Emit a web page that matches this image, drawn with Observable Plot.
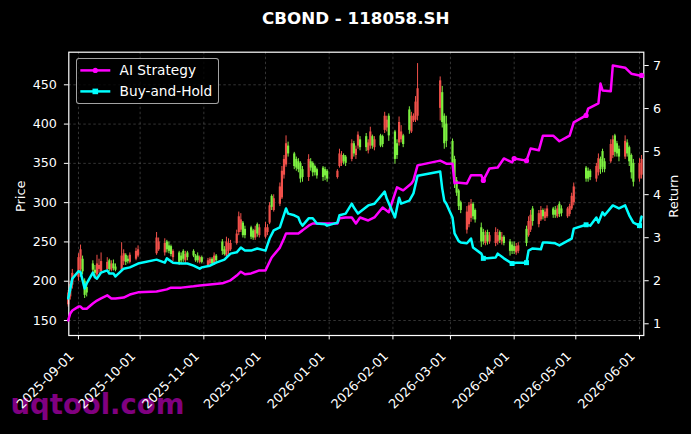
<!DOCTYPE html>
<html><head><meta charset="utf-8">
<script src="https://cdn.jsdelivr.net/npm/d3@7"></script>
<script src="https://cdn.jsdelivr.net/npm/@observablehq/plot@0.6"></script>
<style>
body{margin:0;background:#000;}
#wrap{position:relative;width:691px;height:434px;background:#000;overflow:hidden;font-family:"DejaVu Sans",sans-serif;}
#wrap svg.plot{position:absolute;left:0;top:0;}
#title{position:absolute;left:68.3px;width:575px;top:8px;line-height:20px;text-align:center;color:#fff;font-weight:bold;font-size:16.7px;}
#wm{position:absolute;left:10.5px;top:391px;line-height:27px;font-size:27.5px;font-weight:bold;color:#800080;white-space:nowrap;}
#legend{position:absolute;left:75.7px;top:58.3px;width:141.5px;height:43.7px;border:1px solid rgba(204,204,204,0.8);border-radius:3px;background:rgba(0,0,0,0.8);}
#legend svg{position:absolute;left:-1px;top:-1px;}
</style></head>
<body><div id="wrap"><div id="wm">uqtool.com</div></div>
<script>
const chartTitle = "CBOND - 118058.SH";
const seriesNames = ["AI Strategy", "Buy-and-Hold"];
const axisTitles = ["Price", "Return"];
const priceTicks = [150, 200, 250, 300, 350, 400, 450];
const returnTicks = [1, 2, 3, 4, 5, 6, 7];
const monthTickLabels = ["2025-09-01","2025-10-01","2025-11-01","2025-12-01","2026-01-01","2026-02-01","2026-03-01","2026-04-01","2026-05-01","2026-06-01"];

// date, open, high, low, close
const candles = [
["2025-08-27",170,188,167,185],["2025-08-28",180,200,176,196],["2025-08-29",195,215,190,210],
["2025-09-01",205,235,200,230],["2025-09-02",215,246,205,240],["2025-09-03",228,232,208,212],["2025-09-04",200,203,178,182],["2025-09-05",192,196,180,185],
["2025-09-08",222,226,210,214],["2025-09-09",214,220,205,210],["2025-09-10",208,233,204,222],["2025-09-11",215,228,210,220],["2025-09-12",212,236,210,225],
["2025-09-15",215,230,212,224],["2025-09-16",226,228,212,215],["2025-09-17",214,226,212,222],["2025-09-18",222,227,213,216],["2025-09-19",218,222,212,214],
["2025-09-22",214,249,212,232],["2025-09-23",225,240,220,235],["2025-09-24",233,235,220,224],["2025-09-25",228,232,222,225],["2025-09-26",224,236,222,233],
["2025-09-29",228,242,226,238],["2025-09-30",232,245,230,240],
["2025-10-09",235,262,233,255],["2025-10-10",240,255,238,250],
["2025-10-13",236,254,232,248],["2025-10-14",250,252,236,240],["2025-10-15",245,250,235,238],["2025-10-16",244,246,231,234],["2025-10-17",230,240,225,238],
["2025-10-20",236,238,220,224],["2025-10-21",232,236,222,226],["2025-10-22",238,240,224,228],["2025-10-23",226,238,222,234],["2025-10-24",236,238,226,230],
["2025-10-27",238,240,230,232],["2025-10-28",232,234,224,226],["2025-10-29",232,236,223,226],["2025-10-30",224,232,222,230],["2025-10-31",230,232,222,224],
["2025-11-03",220,229,218,226],["2025-11-04",222,230,219,228],["2025-11-05",228,230,220,222],["2025-11-06",222,236,220,232],["2025-11-07",232,234,224,226],
["2025-11-10",250,253,233,238],["2025-11-11",240,244,232,234],["2025-11-12",232,256,230,250],["2025-11-13",238,254,234,248],["2025-11-14",240,252,238,248],
["2025-11-17",248,265,246,260],["2025-11-18",262,288,258,282],["2025-11-19",265,286,262,278],["2025-11-20",274,276,255,258],["2025-11-21",266,270,254,258],
["2025-11-24",268,270,253,256],["2025-11-25",264,266,252,255],["2025-11-26",255,270,252,265],["2025-11-27",272,274,256,260],["2025-11-28",258,272,255,268],
["2025-12-01",256,275,254,268],["2025-12-02",262,272,258,268],["2025-12-03",274,300,272,296],["2025-12-04",308,310,290,294],["2025-12-05",290,310,288,305],
["2025-12-08",298,325,295,320],["2025-12-09",306,346,304,340],["2025-12-10",335,360,330,355],["2025-12-11",348,385,345,375],["2025-12-12",372,377,358,362],
["2025-12-15",362,364,342,346],["2025-12-16",355,358,340,344],["2025-12-17",352,356,338,342],["2025-12-18",350,352,325,330],["2025-12-19",342,346,326,332],
["2025-12-22",332,361,327,355],["2025-12-23",352,356,340,344],["2025-12-24",350,352,333,338],["2025-12-25",346,348,334,338],["2025-12-26",342,344,330,334],
["2025-12-29",344,346,327,332],["2025-12-30",342,345,328,334],["2025-12-31",340,342,326,330],
["2026-01-05",332,342,330,340],["2026-01-06",346,368,344,362],["2026-01-07",350,365,346,360],["2026-01-08",360,362,348,352],["2026-01-09",358,360,346,350],
["2026-01-12",355,380,352,375],["2026-01-13",375,378,358,362],["2026-01-14",360,372,355,368],["2026-01-15",372,390,368,386],["2026-01-16",380,384,366,370],
["2026-01-19",384,388,365,370],["2026-01-20",366,380,362,376],["2026-01-21",372,396,368,390],["2026-01-22",384,386,368,372],["2026-01-23",370,384,366,380],
["2026-01-26",385,387,370,372],["2026-01-27",384,386,370,374],["2026-01-28",392,415,388,410],["2026-01-29",395,410,390,405],["2026-01-30",410,413,378,385],
["2026-02-02",390,392,349,355],["2026-02-03",375,380,355,360],["2026-02-04",376,409,372,402],["2026-02-05",380,398,376,390],["2026-02-06",385,387,370,374],
["2026-02-09",418,422,387,392],["2026-02-10",390,415,388,410],["2026-02-11",404,413,402,410],["2026-02-12",405,435,402,428],["2026-02-13",410,477,404,445],
["2026-02-24",420,460,404,455],["2026-02-25",440,448,395,402],["2026-02-26",410,413,368,375],["2026-02-27",400,410,370,378],
["2026-03-02",378,381,342,348],["2026-03-03",355,359,318,325],["2026-03-04",328,332,308,312],["2026-03-05",315,317,290,295],["2026-03-06",300,302,286,290],
["2026-03-09",265,295,260,288],["2026-03-10",272,300,268,296],["2026-03-11",280,304,275,298],["2026-03-12",298,300,278,282],["2026-03-13",290,292,274,278],
["2026-03-16",268,274,243,250],["2026-03-17",262,266,246,250],["2026-03-18",248,264,245,258],["2026-03-19",262,265,246,250],["2026-03-20",250,262,247,258],
["2026-03-23",248,268,244,262],["2026-03-24",250,266,246,258],["2026-03-25",262,264,248,252],["2026-03-26",250,262,246,256],["2026-03-27",256,258,245,248],
["2026-03-30",250,253,232,238],["2026-03-31",246,250,234,238],["2026-04-01",244,250,234,238],["2026-04-02",236,248,233,244],["2026-04-03",238,249,235,245],
["2026-04-07",266,270,244,248],["2026-04-08",258,282,256,276],["2026-04-09",265,290,262,284],["2026-04-10",292,295,270,276],
["2026-04-13",272,290,268,286],["2026-04-14",278,295,276,290],["2026-04-15",290,292,278,282],["2026-04-16",280,292,276,288],["2026-04-17",282,296,280,292],
["2026-04-20",292,294,280,284],["2026-04-21",290,295,280,284],["2026-04-22",282,296,280,292],["2026-04-23",298,301,281,285],["2026-04-24",292,296,282,286],
["2026-04-27",282,294,280,292],["2026-04-28",285,298,282,295],["2026-04-29",292,312,290,308],["2026-04-30",300,325,296,320],
["2026-05-06",344,346,326,330],["2026-05-07",340,344,326,330],["2026-05-08",340,342,328,332],
["2026-05-11",330,350,326,346],["2026-05-12",338,362,334,356],["2026-05-13",355,358,336,342],["2026-05-14",365,368,338,345],["2026-05-15",352,356,338,342],
["2026-05-18",352,380,350,374],["2026-05-19",360,385,356,380],["2026-05-20",385,387,358,364],["2026-05-21",375,378,358,362],["2026-05-22",368,372,352,358],
["2026-05-25",358,385,355,378],["2026-05-26",376,380,358,362],["2026-05-27",370,372,346,352],["2026-05-28",360,362,330,338],["2026-05-29",350,355,320,326],
["2026-06-01",330,356,326,350],["2026-06-02",335,360,330,355]
];

const aiStrategy = [
["2025-08-27",1.08],["2025-08-28",1.24],["2025-08-29",1.31],["2025-09-01",1.40],["2025-09-02",1.40],["2025-09-03",1.35],["2025-09-05",1.35],["2025-09-08",1.47],
["2025-09-10",1.54],["2025-09-12",1.59],["2025-09-15",1.66],["2025-09-17",1.59],["2025-09-19",1.59],["2025-09-23",1.61],["2025-09-26",1.68],["2025-09-30",1.73],
["2025-10-09",1.75],["2025-10-14",1.80],["2025-10-16",1.84],["2025-10-21",1.84],["2025-10-27",1.87],["2025-10-30",1.89],["2025-11-04",1.91],["2025-11-10",1.94],
["2025-11-14",2.01],["2025-11-17",2.12],["2025-11-19",2.21],["2025-11-21",2.15],["2025-11-24",2.17],["2025-11-28",2.24],["2025-12-01",2.24],["2025-12-04",2.54],
["2025-12-08",2.77],["2025-12-10",2.98],["2025-12-11",3.10],["2025-12-17",3.10],["2025-12-19",3.17],["2025-12-22",3.28],["2025-12-24",3.33],["2026-01-05",3.33],
["2026-01-06",3.45],["2026-01-09",3.47],["2026-01-12",3.47],["2026-01-14",3.33],["2026-01-16",3.47],["2026-01-20",3.40],["2026-01-23",3.47],["2026-01-27",3.70],
["2026-01-30",3.59],["2026-02-03",4.17],["2026-02-06",4.10],["2026-02-10",4.26],["2026-02-11",4.33],["2026-02-13",4.68],["2026-02-24",4.79],["2026-02-27",4.72],
["2026-03-02",4.72],["2026-03-03",4.26],["2026-03-04",4.28],["2026-03-09",4.26],["2026-03-11",4.45],["2026-03-16",4.45],["2026-03-17",4.33],["2026-03-20",4.61],
["2026-03-24",4.63],["2026-03-27",4.84],["2026-03-31",4.75],["2026-04-01",4.84],["2026-04-07",4.79],["2026-04-09",5.07],["2026-04-13",5.03],["2026-04-15",5.37],
["2026-04-20",5.37],["2026-04-23",5.24],["2026-04-28",5.37],["2026-04-30",5.68],["2026-05-06",5.84],["2026-05-07",6.00],["2026-05-12",6.12],["2026-05-13",6.58],
["2026-05-14",6.42],["2026-05-18",6.40],["2026-05-19",7.00],["2026-05-25",6.95],["2026-05-28",6.81],["2026-06-01",6.77],["2026-06-02",6.77]
];

const buyHold = [
["2025-08-27",1.59],["2025-08-28",1.80],["2025-08-29",2.05],["2025-09-01",2.22],["2025-09-02",2.20],["2025-09-04",1.82],["2025-09-05",1.94],["2025-09-08",2.19],
["2025-09-09",2.08],["2025-09-10",2.05],["2025-09-12",2.19],["2025-09-15",2.24],["2025-09-16",2.17],["2025-09-18",2.17],["2025-09-19",2.10],["2025-09-23",2.28],
["2025-09-26",2.31],["2025-09-30",2.40],["2025-10-09",2.49],["2025-10-13",2.42],["2025-10-14",2.52],["2025-10-17",2.42],["2025-10-21",2.40],["2025-10-24",2.40],
["2025-10-27",2.35],["2025-10-30",2.28],["2025-10-31",2.31],["2025-11-04",2.35],["2025-11-07",2.42],["2025-11-11",2.49],["2025-11-14",2.63],["2025-11-17",2.66],
["2025-11-19",2.77],["2025-11-21",2.70],["2025-11-24",2.70],["2025-11-27",2.75],["2025-12-01",2.70],["2025-12-03",2.98],["2025-12-05",3.17],["2025-12-08",3.24],
["2025-12-11",3.68],["2025-12-12",3.56],["2025-12-15",3.52],["2025-12-17",3.47],["2025-12-18",3.35],["2025-12-19",3.28],["2025-12-22",3.45],["2025-12-24",3.45],
["2025-12-26",3.33],["2025-12-30",3.31],["2025-12-31",3.28],["2026-01-05",3.35],["2026-01-06",3.52],["2026-01-09",3.56],["2026-01-12",3.79],["2026-01-13",3.70],
["2026-01-15",3.56],["2026-01-20",3.75],["2026-01-23",3.79],["2026-01-28",4.07],["2026-01-29",3.91],["2026-02-02",3.47],["2026-02-04",3.93],["2026-02-05",3.79],
["2026-02-09",3.86],["2026-02-11",4.03],["2026-02-13",4.44],["2026-02-24",4.54],["2026-02-25",4.14],["2026-02-26",3.86],["2026-02-27",3.79],["2026-03-02",3.47],
["2026-03-03",3.10],["2026-03-05",2.92],["2026-03-06",2.89],["2026-03-09",2.87],["2026-03-11",2.98],["2026-03-12",2.77],["2026-03-16",2.63],["2026-03-17",2.52],
["2026-03-19",2.52],["2026-03-23",2.54],["2026-03-24",2.63],["2026-03-27",2.52],["2026-03-31",2.40],["2026-04-02",2.42],["2026-04-07",2.42],["2026-04-08",2.70],
["2026-04-10",2.75],["2026-04-14",2.73],["2026-04-15",2.89],["2026-04-17",2.89],["2026-04-21",2.87],["2026-04-23",2.82],["2026-04-29",2.98],["2026-04-30",3.21],
["2026-05-06",3.30],["2026-05-08",3.28],["2026-05-11",3.47],["2026-05-12",3.35],["2026-05-14",3.59],["2026-05-15",3.52],["2026-05-19",3.75],["2026-05-22",3.68],
["2026-05-25",3.75],["2026-05-27",3.52],["2026-05-29",3.35],["2026-06-01",3.28],["2026-06-02",3.49]
];

const aiMarkers = [["2026-03-17",4.33],["2026-04-01",4.84],["2026-04-07",4.79],["2026-05-06",5.84],["2026-06-02",6.77]];
const bhMarkers = [["2026-03-17",2.52],["2026-03-31",2.40],["2026-04-07",2.42],["2026-05-06",3.30],["2026-06-01",3.28]];

const RED = "#f0504a", GREEN = "#7cf040", MAG = "#ff00ff", CYAN = "#00ffff";
const parse = d3.utcParse("%Y-%m-%d");
const rows = candles.map(([d, o, h, l, c]) => ({date: parse(d), o, h, l, c, up: c >= o}));
const upRows = rows.filter(d => d.up), downRows = rows.filter(d => !d.up);
const toPts = arr => arr.map(([d, r]) => ({date: parse(d), r}));
const ai = toPts(aiStrategy), bh = toPts(buyHold);
const monthTicks = monthTickLabels.map(parse);

const W = 691, H = 434, mL = 68.3, mR = 47.7, mT = 51.7, mB = 99;
const xDomain = [new Date("2025-08-27T07:00:00Z"), new Date("2026-06-03T02:00:00Z")];
const font = "DejaVu Sans, sans-serif";
const gridStyle = {stroke: "#bbbbbb", strokeOpacity: 0.4, strokeDasharray: "2.5,2.5", strokeWidth: 0.7};
const fmt = d3.utcFormat("%Y-%m-%d");

const p1 = Plot.plot({
  width: W, height: H, marginLeft: mL, marginRight: mR, marginTop: mT, marginBottom: mB,
  style: {background: "transparent", color: "#fff", fontFamily: font, fontSize: "12.7px"},
  x: {type: "utc", domain: xDomain},
  y: {domain: [130.9, 491.5]},
  marks: [
    Plot.gridX(monthTicks, gridStyle),
    Plot.gridY(priceTicks, gridStyle),
    Plot.ruleX(upRows, {x: "date", y1: "l", y2: "h", stroke: RED, strokeWidth: 1}),
    Plot.ruleX(downRows, {x: "date", y1: "l", y2: "h", stroke: GREEN, strokeWidth: 1}),
    Plot.ruleX(upRows, {x: "date", y1: "o", y2: "c", stroke: RED, strokeWidth: 2.2}),
    Plot.ruleX(downRows, {x: "date", y1: "o", y2: "c", stroke: GREEN, strokeWidth: 2.2}),
    Plot.axisY(priceTicks, {anchor: "left", tickSize: 4.4, tickPadding: 7.5, fontSize: 12.7, label: null}),
    Plot.text([axisTitles[0]], {frameAnchor: "left", text: d => d, rotate: -90, textAnchor: "middle", lineAnchor: "bottom", dx: -43.9, dy: 2.4, fontSize: 13, fill: "#fff"}),
    Plot.axisX(monthTicks, {anchor: "bottom", tickSize: 4.4, tickFormat: () => "", label: null}),
    Plot.text(monthTicks, {x: d => d, frameAnchor: "bottom", text: d => fmt(d), rotate: -45, textAnchor: "end", lineAnchor: "bottom", dx: -3.8, dy: 21.5, fontSize: 12.8, fill: "#fff"}),
    Plot.frame({stroke: "#fff", strokeWidth: 1.2})
  ]
});
p1.classList.add("plot");

const p2 = Plot.plot({
  width: W, height: H, marginLeft: mL, marginRight: mR, marginTop: mT, marginBottom: mB,
  style: {background: "transparent", color: "#fff", fontFamily: font, fontSize: "12.7px"},
  x: {type: "utc", domain: xDomain, axis: null},
  y: {domain: [0.728, 7.309]},
  marks: [
    Plot.line(ai, {x: "date", y: "r", stroke: MAG, strokeWidth: 2.5, strokeLinejoin: "round"}),
    Plot.line(bh, {x: "date", y: "r", stroke: CYAN, strokeWidth: 2.5, strokeLinejoin: "round"}),
    Plot.dot(toPts(aiMarkers), {x: "date", y: "r", r: 2.6, fill: MAG, stroke: null}),
    Plot.dot(toPts(bhMarkers), {x: "date", y: "r", r: 2.8, symbol: "square", fill: CYAN, stroke: null}),
    Plot.axisY(returnTicks, {anchor: "right", tickSize: 4.4, tickPadding: 4.8, fontSize: 12.7, label: null}),
    Plot.text([axisTitles[1]], {frameAnchor: "right", text: d => d, rotate: -90, textAnchor: "middle", lineAnchor: "bottom", dx: 34.2, dy: 2.4, fontSize: 13, fill: "#fff"})
  ]
});
p2.classList.add("plot");

const wrap = document.getElementById("wrap");
wrap.appendChild(p1);
wrap.appendChild(p2);

const title = document.createElement("div");
title.id = "title";
title.textContent = chartTitle;
wrap.appendChild(title);

const legend = document.createElement("div");
legend.id = "legend";
legend.innerHTML = `<svg width="144" height="46" font-family="DejaVu Sans, sans-serif" font-size="13.7">
  <line x1="4.3" x2="34.3" y1="12.4" y2="12.4" stroke="${MAG}" stroke-width="2.5"/>
  <circle cx="19.3" cy="12.4" r="2.6" fill="${MAG}"/>
  <text x="43.6" y="17" fill="#fff">${seriesNames[0]}</text>
  <line x1="4.3" x2="34.3" y1="33.4" y2="33.4" stroke="${CYAN}" stroke-width="2.5"/>
  <rect x="16.5" y="30.6" width="5.6" height="5.6" fill="${CYAN}"/>
  <text x="43.6" y="38.2" fill="#fff">${seriesNames[1]}</text>
</svg>`;
wrap.appendChild(legend);
</script>
</body></html>
